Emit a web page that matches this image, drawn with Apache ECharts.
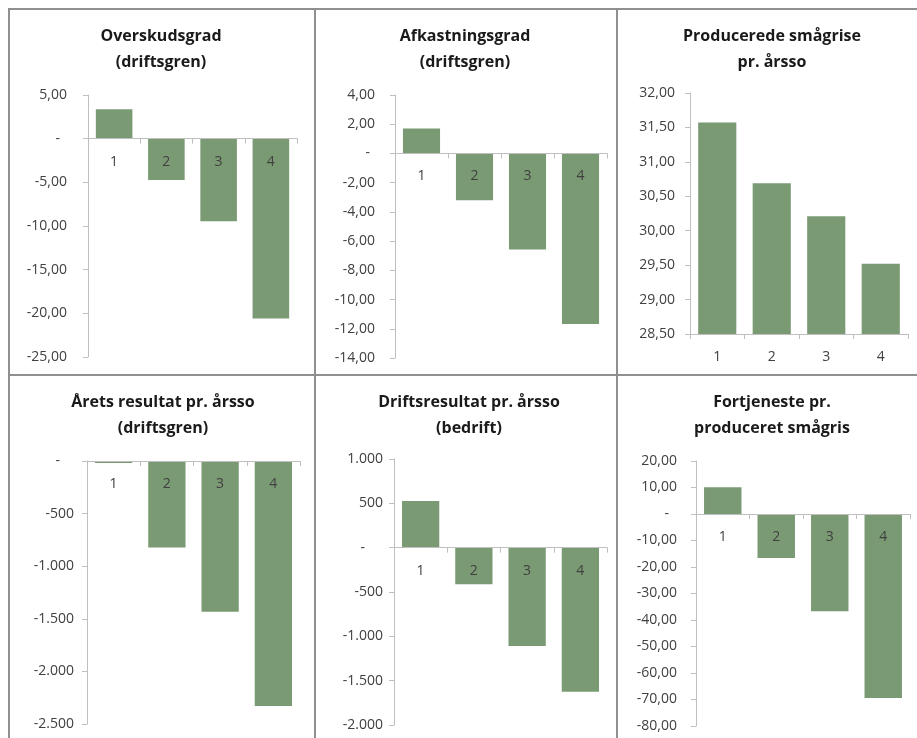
<!DOCTYPE html>
<html>
<head>
<meta charset="utf-8">
<script src="https://cdn.jsdelivr.net/npm/echarts@6/dist/echarts.min.js"></script>
<style>
  html, body { margin: 0; padding: 0; background: #fff; }
  #wrap { position: relative; width: 917px; height: 738px; overflow: hidden; }
  #chart { position: absolute; left: 0; top: 0; width: 917px; height: 738px; }
  .ln { position: absolute; background: #909090; pointer-events: none; }
</style>
</head>
<body>
<div id="wrap">
  <div id="chart"></div>
  <div class="ln" style="left:8px; top:8px; width:909px; height:2px;"></div>
  <div class="ln" style="left:8px; top:8px; width:2px; height:730px;"></div>
  <div class="ln" style="left:314px; top:8px; width:2px; height:730px;"></div>
  <div class="ln" style="left:616px; top:8px; width:2px; height:730px;"></div>
  <div class="ln" style="left:8px; top:374px; width:909px; height:2px;"></div>
</div>
<script>
// ---- data ----
const categories = ['1', '2', '3', '4'];

const titles = [
  'Overskudsgrad\n(driftsgren)',
  'Afkastningsgrad\n(driftsgren)',
  'Producerede smågrise\npr. årsso',
  'Årets resultat pr. årsso\n(driftsgren)',
  'Driftsresultat pr. årsso\n(bedrift)',
  'Fortjeneste pr.\nproduceret smågris'
];

const overskudsgrad   = [3.36, -4.73, -9.45, -20.6];
const afkastningsgrad = [1.71, -3.20, -6.57, -11.67];
const smaagrise       = [31.57, 30.69, 30.21, 29.52];
const aaretsResultat  = [-20, -823, -1434, -2328];
const driftsresultat  = [527, -413, -1110, -1626];
const fortjeneste     = [10.1, -16.6, -36.7, -69.4];

// category labels sit on the zero line of each value axis
const zeroLine = [0, 0, 0, 0];

// axis ranges (min, max, interval)
const axisMin      = [-25, -14, 28.5, -2500, -2000, -80];
const axisMax      = [5, 4, 32, 0, 1000, 20];
const axisInterval = [5, 2, 0.5, 500, 500, 10];

const seriesData = [overskudsgrad, afkastningsgrad, smaagrise, aaretsResultat, driftsresultat, fortjeneste];
const isThousands = [false, false, false, true, true, false];
// panels whose value axis contains zero -> labels at the zero line
const labelsOnZero = [true, true, false, true, true, true];

// ---- layout (styling only) ----
const grids = [
  { left: 88,  top: 95,  width: 209, height: 262 },
  { left: 395, top: 95,  width: 212, height: 263 },
  { left: 690, top: 93,  width: 218, height: 241 },
  { left: 87,  top: 461, width: 213, height: 263 },
  { left: 394, top: 459, width: 213, height: 266 },
  { left: 696, top: 461, width: 214, height: 265 }
];
const titleCenters = [161, 465, 772, 163, 469, 772];
const titleTops = [23, 23, 23, 389, 389, 389];
const labelMargins = [21, 20, 15, 13, 11, 19];
const dashPads = [7, 5, 0, 14, 18, 8];

const TEXT = '#404040';
const AXIS = '#bfbfbf';
const BAR = '#7a9a74';
const FONT = 'Open Sans';

function fmtDec(v) {
  if (Math.abs(v) < 1e-9) return '{z|-}';
  return v.toFixed(2).replace('.', ',');
}
function fmtK(v) {
  if (Math.abs(v) < 1e-9) return '{z|-}';
  const s = Math.abs(Math.round(v)).toString().replace(/\B(?=(\d{3})+(?!\d))/g, '.');
  return (v < 0 ? '-' : '') + s;
}

const barSeries = seriesData.map((d, i) => ({
  type: 'bar',
  xAxisIndex: i,
  yAxisIndex: i,
  data: d,
  barCategoryGap: '30%',
  itemStyle: { color: BAR },
  clip: true,
  z: 2
}));

const labelSeries = [];
labelsOnZero.forEach((on, i) => {
  if (!on) return;
  labelSeries.push({
    type: 'scatter',
    xAxisIndex: i,
    yAxisIndex: i,
    data: zeroLine,
    symbol: 'circle',
    symbolSize: 2,
    itemStyle: { color: 'rgba(0,0,0,0)' },
    silent: true,
    z: 10,
    label: {
      show: true,
      position: 'bottom',
      distance: 15,
      formatter: '{b}',
      fontFamily: FONT,
      fontSize: 14,
      color: TEXT,
      opacity: 1
    }
  });
});

const option = {
  animation: false,
  backgroundColor: '#ffffff',
  title: titles.map((t, i) => ({
    text: t,
    left: titleCenters[i],
    top: titleTops[i],
    textAlign: 'center',
    padding: 0,
    textStyle: { fontFamily: FONT, fontSize: 16, fontWeight: 'bold', color: '#1a1a1a', lineHeight: 26 }
  })),
  grid: grids.map(g => Object.assign({ containLabel: false }, g)),
  xAxis: grids.map((g, i) => ({
    type: 'category',
    gridIndex: i,
    data: categories,
    z: 10,
    axisLine: { show: true, onZero: true, lineStyle: { color: AXIS, width: 1 } },
    axisTick: { show: true, length: 5, alignWithLabel: false, lineStyle: { color: AXIS } },
    axisLabel: { show: !labelsOnZero[i], fontFamily: FONT, fontSize: 14, color: TEXT, margin: 16 },
    splitLine: { show: false }
  })),
  yAxis: grids.map((g, i) => ({
    type: 'value',
    gridIndex: i,
    min: axisMin[i],
    max: axisMax[i],
    interval: axisInterval[i],
    axisLine: { show: true, lineStyle: { color: AXIS, width: 1 } },
    axisTick: { show: true, length: 5, lineStyle: { color: AXIS } },
    splitLine: { show: false },
    axisLabel: {
      fontFamily: FONT, fontSize: 14, color: TEXT, margin: labelMargins[i],
      formatter: isThousands[i] ? fmtK : fmtDec,
      rich: { z: { fontFamily: FONT, fontSize: 14, color: TEXT, padding: [0, dashPads[i], 0, 0] } }
    }
  })),
  series: barSeries.concat(labelSeries)
};

const chart = echarts.init(document.getElementById('chart'), null, { renderer: 'canvas' });
chart.setOption(option);
</script>
</body>
</html>
